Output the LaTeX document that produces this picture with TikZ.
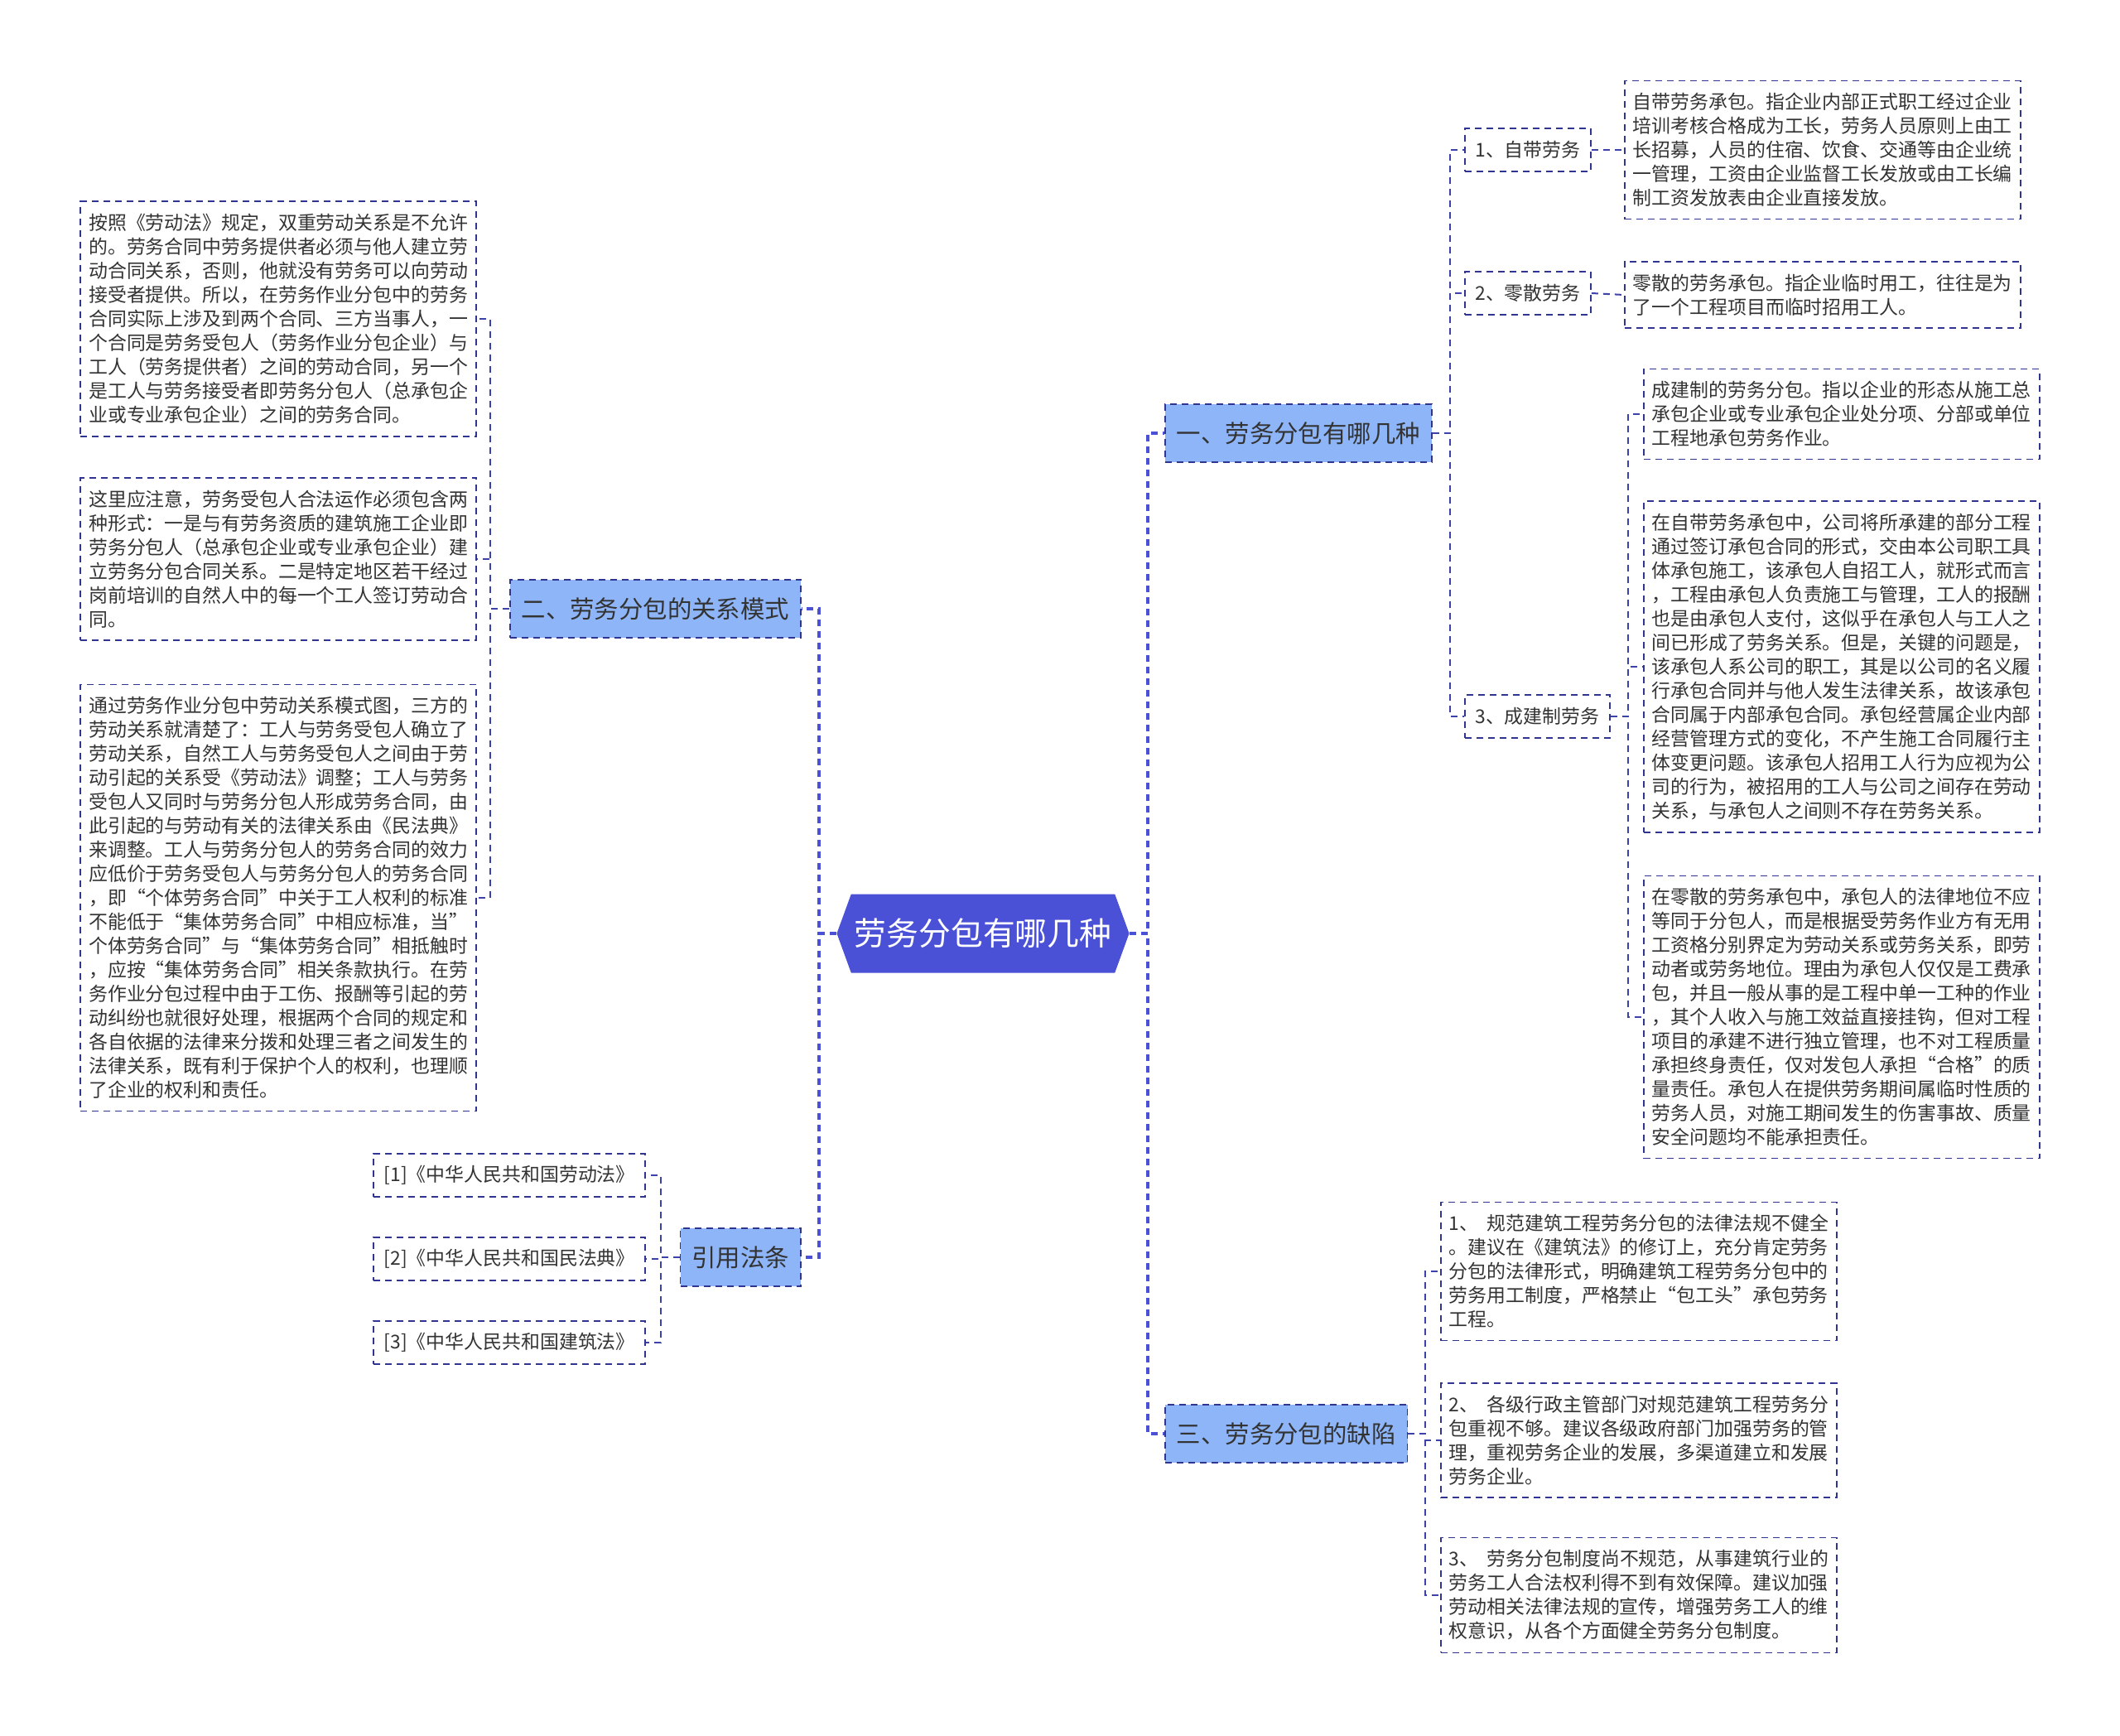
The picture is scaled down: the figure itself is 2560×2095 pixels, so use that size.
\documentclass[tikz,border=0pt]{standalone}
\usepackage{fontspec}
\setmainfont{Noto Sans CJK SC}
\usetikzlibrary{shapes.symbols}
\definecolor{rootblue}{HTML}{4A51D6}
\definecolor{topicblue}{HTML}{8DB5F8}
\definecolor{navy}{HTML}{2F3590}
\definecolor{linkblue}{HTML}{3D42A8}
\definecolor{inkgrey}{HTML}{333333}
\tikzset{
  root/.style={signal, signal to=west and east, signal pointer angle=140, fill=rootblue,
    text=white, minimum width=176.5pt, minimum height=47.5pt, inner sep=0pt,
    font=\fontsize{19.4}{23}\selectfont},
  topic/.style={draw=navy, dash pattern=on 4pt off 3pt, line width=0.9pt, fill=topicblue,
    text=inkgrey, minimum height=35pt, inner xsep=7pt, font=\fontsize{14.7}{18}\selectfont},
  subtopic/.style={draw=navy, dash pattern=on 4pt off 3pt, line width=0.8pt, fill=white,
    text=inkgrey, minimum height=26pt, inner xsep=6.25pt, font=\fontsize{11.45}{14.5}\selectfont},
  citation/.style={subtopic, minimum width=162.5pt},
  leaf/.style={draw=navy, dash pattern=on 4pt off 3pt, line width=0.8pt, fill=white,
    text=inkgrey, text width=229pt, align=left, inner xsep=5pt, inner ysep=7.5pt,
    font=\fontsize{11.45}{14.5}\selectfont},
  rootlink/.style={draw=rootblue, line width=1.6pt, dash pattern=on 4pt off 3pt},
  link/.style={draw=linkblue, line width=1pt, dash pattern=on 4pt off 3pt}
}

\begin{document}
\begin{tikzpicture}[x=0.5pt, y=-0.5pt]
  \useasboundingbox (0, 0) rectangle (2560, 2095);

  % centre and main branches
  \node[root] (root) at (1187, 1127) {劳务分包有哪几种};
  \node[topic, anchor=west] (types) at (1406, 523) {一、劳务分包有哪几种};
  \node[topic, anchor=east] (relation) at (968, 735) {二、劳务分包的关系模式};
  \node[topic, anchor=east] (laws) at (968, 1518) {引用法条};
  \node[topic, anchor=west] (defects) at (1406, 1731) {三、劳务分包的缺陷};

  % kinds of labour subcontracting
  \node[subtopic, anchor=west] (self_labour) at (1768, 181) {1、自带劳务};
  \node[subtopic, anchor=west] (odd_labour) at (1768, 354) {2、零散劳务};
  \node[subtopic, anchor=west] (team_labour) at (1768, 865) {3、成建制劳务};
  \node[leaf, anchor=west] (self_text) at (1961, 181) {自带劳务承包。指企业内部正式职工经过企业\\培训考核合格成为工长，劳务人员原则上由工\\长招募，人员的住宿、饮食、交通等由企业统\\一管理，工资由企业监督工长发放或由工长编\\制工资发放表由企业直接发放。};
  \node[leaf, anchor=west] (odd_text) at (1961, 356) {零散的劳务承包。指企业临时用工，往往是为\\了一个工程项目而临时招用工人。};
  \node[leaf, anchor=west] (team_text) at (1984, 500) {成建制的劳务分包。指以企业的形态从施工总\\承包企业或专业承包企业处分项、分部或单位\\工程地承包劳务作业。};
  \node[leaf, anchor=west] (self_case) at (1984, 805) {在自带劳务承包中，公司将所承建的部分工程\\通过签订承包合同的形式，交由本公司职工具\\体承包施工，该承包人自招工人，就形式而言\\，工程由承包人负责施工与管理，工人的报酬\\也是由承包人支付，这似乎在承包人与工人之\\间已形成了劳务关系。但是，关键的问题是，\\该承包人系公司的职工，其是以公司的名义履\\行承包合同并与他人发生法律关系，故该承包\\合同属于内部承包合同。承包经营属企业内部\\经营管理方式的变化，不产生施工合同履行主\\体变更问题。该承包人招用工人行为应视为公\\司的行为，被招用的工人与公司之间存在劳动\\关系，与承包人之间则不存在劳务关系。};
  \node[leaf, anchor=west] (odd_case) at (1984, 1228) {在零散的劳务承包中，承包人的法律地位不应\\等同于分包人，而是根据受劳务作业方有无用\\工资格分别界定为劳动关系或劳务关系，即劳\\动者或劳务地位。理由为承包人仅仅是工费承\\包，并且一般从事的是工程中单一工种的作业\\，其个人收入与施工效益直接挂钩，但对工程\\项目的承建不进行独立管理，也不对工程质量\\承担终身责任，仅对发包人承担“合格”的质\\量责任。承包人在提供劳务期间属临时性质的\\劳务人员，对施工期间发生的伤害事故、质量\\安全问题均不能承担责任。};

  % defects
  \node[leaf, anchor=west] (defect_one) at (1739, 1535) {1、\kern0.45em 规范建筑工程劳务分包的法律法规不健全\\。建议在《建筑法》的修订上，充分肯定劳务\\分包的法律形式，明确建筑工程劳务分包中的\\劳务用工制度，严格禁止“包工头”承包劳务\\工程。};
  \node[leaf, anchor=west] (defect_two) at (1739, 1739) {2、\kern0.45em 各级行政主管部门对规范建筑工程劳务分\\包重视不够。建议各级政府部门加强劳务的管\\理，重视劳务企业的发展，多渠道建立和发展\\劳务企业。};
  \node[leaf, anchor=west] (defect_three) at (1739, 1926) {3、\kern0.45em 劳务分包制度尚不规范，从事建筑行业的\\劳务工人合法权利得不到有效保障。建议加强\\劳动相关法律法规的宣传，增强劳务工人的维\\权意识，从各个方面健全劳务分包制度。};

  % relation model
  \node[leaf, anchor=east] (relation_one) at (576, 385) {按照《劳动法》规定，双重劳动关系是不允许\\的。劳务合同中劳务提供者必须与他人建立劳\\动合同关系，否则，他就没有劳务可以向劳动\\接受者提供。所以，在劳务作业分包中的劳务\\合同实际上涉及到两个合同、三方当事人，一\\个合同是劳务受包人（劳务作业分包企业）与\\工人（劳务提供者）之间的劳动合同，另一个\\是工人与劳务接受者即劳务分包人（总承包企\\业或专业承包企业）之间的劳务合同。};
  \node[leaf, anchor=east] (relation_two) at (576, 675) {这里应注意，劳务受包人合法运作必须包含两\\种形式：一是与有劳务资质的建筑施工企业即\\劳务分包人（总承包企业或专业承包企业）建\\立劳务分包合同关系。二是特定地区若干经过\\岗前培训的自然人中的每一个工人签订劳动合\\同。};
  \node[leaf, anchor=east] (relation_three) at (576, 1084) {通过劳务作业分包中劳动关系模式图，三方的\\劳动关系就清楚了：工人与劳务受包人确立了\\劳动关系，自然工人与劳务受包人之间由于劳\\动引起的关系受《劳动法》调整；工人与劳务\\受包人又同时与劳务分包人形成劳务合同，由\\此引起的与劳动有关的法律关系由《民法典》\\来调整。工人与劳务分包人的劳务合同的效力\\应低价于劳务受包人与劳务分包人的劳务合同\\，即“个体劳务合同”中关于工人权利的标准\\不能低于“集体劳务合同”中相应标准，当”\\个体劳务合同”与“集体劳务合同”相抵触时\\，应按“集体劳务合同”相关条款执行。在劳\\务作业分包过程中由于工伤、报酬等引起的劳\\动纠纷也就很好处理，根据两个合同的规定和\\各自依据的法律来分拨和处理三者之间发生的\\法律关系，既有利于保护个人的权利，也理顺\\了企业的权利和责任。};

  % cited laws
  \node[citation, anchor=east] (law_one) at (780, 1419) {[1]《中华人民共和国劳动法》};
  \node[citation, anchor=east] (law_two) at (780, 1520) {[2]《中华人民共和国民法典》};
  \node[citation, anchor=east] (law_three) at (780, 1621) {[3]《中华人民共和国建筑法》};

  % connectors
  \draw[rootlink] (root.east) -- ++(22, 0) |- (types.west);
  \draw[rootlink] (root.east) -- ++(22, 0) |- (defects.west);
  \draw[rootlink] (root.west) -- ++(-21, 0) |- (relation.east);
  \draw[rootlink] (root.west) -- ++(-21, 0) |- (laws.east);

  \draw[link] (types.east) -- ++(21, 0) |- (self_labour.west);
  \draw[link] (types.east) -- ++(21, 0) |- (odd_labour.west);
  \draw[link] (types.east) -- ++(21, 0) |- (team_labour.west);
  \draw[link] (self_labour.east) -- (self_text.west);
  \draw[link] (odd_labour.east) -- (odd_text.west);
  \draw[link] (team_labour.east) -- ++(21, 0) |- (team_text.west);
  \draw[link] (team_labour.east) -- ++(21, 0) |- (self_case.west);
  \draw[link] (team_labour.east) -- ++(21, 0) |- (odd_case.west);

  \draw[link] (defects.east) -- ++(21, 0) |- (defect_one.west);
  \draw[link] (defects.east) -- ++(21, 0) |- (defect_two.west);
  \draw[link] (defects.east) -- ++(21, 0) |- (defect_three.west);

  \draw[link] (relation.west) -- ++(-23, 0) |- (relation_one.east);
  \draw[link] (relation.west) -- ++(-23, 0) |- (relation_two.east);
  \draw[link] (relation.west) -- ++(-23, 0) |- (relation_three.east);

  \draw[link] (laws.west) -- ++(-23, 0) |- (law_one.east);
  \draw[link] (laws.west) -- ++(-23, 0) |- (law_two.east);
  \draw[link] (laws.west) -- ++(-23, 0) |- (law_three.east);
\end{tikzpicture}
\end{document}
